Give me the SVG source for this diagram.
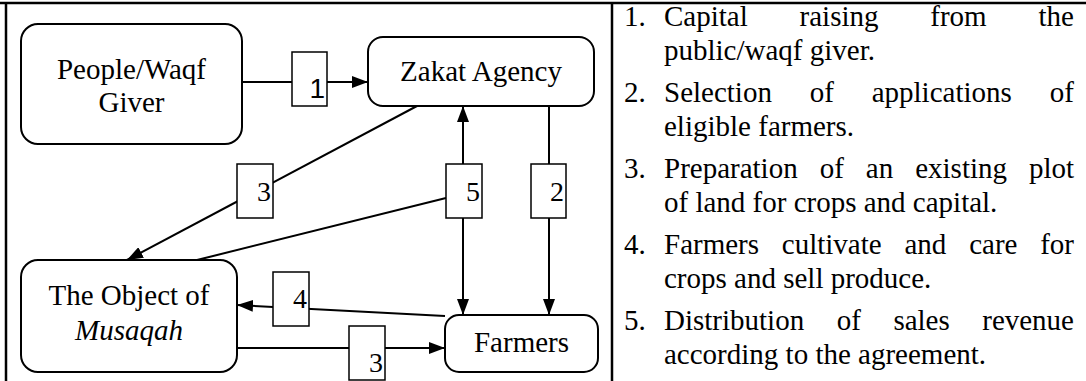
<svg xmlns="http://www.w3.org/2000/svg" width="1086" height="381" viewBox="0 0 1086 381">
  <defs>
    <marker id="arrow" viewBox="0 0 16 12" refX="16" refY="6" markerWidth="16" markerHeight="12" markerUnits="userSpaceOnUse" orient="auto-start-reverse">
      <path d="M0,0 L16,6 L0,12 Z" fill="#000"/>
    </marker>
    <style>
      .frame { stroke: #000; stroke-width: 2.5; fill: none; }
      .node { fill: #fff; stroke: #000; stroke-width: 2; }
      .conn { stroke: #000; stroke-width: 2; fill: none; }
      .tag { fill: #fff; stroke: #000; stroke-width: 1.5; }
      .serif { font-family: "Liberation Serif", "Times New Roman", serif; fill: #000; }
      .sans { font-family: "Liberation Sans", Arial, sans-serif; fill: #000; }
      .ntext { font-size: 29px; text-anchor: middle; }
      .num { font-size: 28px; text-anchor: end; }
      .list { font-size: 29px; }
    </style>
  </defs>

  <rect width="1086" height="381" fill="#fff"/>

  <!-- table frame -->
  <g id="frame">
    <line class="frame" x1="0" y1="3" x2="1086" y2="3"/>
    <line class="frame" x1="6" y1="2" x2="6" y2="381"/>
    <line class="frame" x1="612" y1="2" x2="612" y2="381"/>
  </g>

  <!-- connectors with their step tags -->
  <g id="connectors">
    <line class="conn" x1="242" y1="82" x2="368" y2="82" marker-end="url(#arrow)"/>
    <line class="conn" x1="549" y1="106" x2="549" y2="315" marker-end="url(#arrow)"/>
    <line class="conn" x1="417" y1="106" x2="127" y2="260" marker-end="url(#arrow)"/>
    <line class="conn" x1="463" y1="106" x2="463" y2="315" marker-start="url(#arrow)" marker-end="url(#arrow)"/>
    <line class="conn" x1="446" y1="198" x2="197" y2="260"/>
    <line class="conn" x1="445" y1="316" x2="237" y2="305" marker-end="url(#arrow)"/>
    <line class="conn" x1="237" y1="348" x2="445" y2="348" marker-end="url(#arrow)"/>

    <g id="tag1">
      <rect class="tag" x="292" y="52" width="35" height="54"/>
      <text class="sans num" x="325" y="98">1</text>
    </g>
    <g id="tag2">
      <rect class="tag" x="531" y="164" width="35" height="54"/>
      <text class="serif num" x="564" y="201">2</text>
    </g>
    <g id="tag3a">
      <rect class="tag" x="237" y="164" width="36" height="54"/>
      <text class="serif num" x="271" y="201">3</text>
    </g>
    <g id="tag5">
      <rect class="tag" x="446" y="164" width="36" height="54"/>
      <text class="serif num" x="480" y="201">5</text>
    </g>
    <g id="tag4">
      <rect class="tag" x="273" y="272" width="36" height="54"/>
      <text class="serif num" x="307" y="308">4</text>
    </g>
    <g id="tag3b">
      <rect class="tag" x="349" y="326" width="36" height="54"/>
      <text class="serif num" x="383" y="372">3</text>
    </g>
  </g>

  <!-- nodes -->
  <g id="people-waqf-giver">
    <rect class="node" x="21" y="24" width="221" height="120" rx="17"/>
    <text class="serif ntext" x="131.5" y="79">People/Waqf</text>
    <text class="serif ntext" x="131.5" y="112">Giver</text>
  </g>
  <g id="zakat-agency">
    <rect class="node" x="368" y="37" width="226" height="69" rx="15"/>
    <text class="serif ntext" x="481" y="81">Zakat Agency</text>
  </g>
  <g id="object-musaqah">
    <rect class="node" x="21" y="260" width="216" height="112" rx="17"/>
    <text class="serif ntext" x="129" y="305">The Object of</text>
    <text class="serif ntext" x="129" y="340" font-style="italic">Musaqah</text>
  </g>
  <g id="farmers">
    <rect class="node" x="445" y="315" width="153" height="57" rx="14"/>
    <text class="serif ntext" x="521.5" y="352">Farmers</text>
  </g>

  <!-- numbered explanation of the steps (justified lines set word by word) -->
  <g id="steps" class="serif list">
    <text x="624" y="26">1.</text>
    <text y="26"><tspan x="664">Capital</tspan><tspan x="799.6">raising</tspan><tspan x="930.3">from</tspan></text>
    <text x="1074" y="26" text-anchor="end">the</text>
    <text x="664" y="59.5">public/waqf giver.</text>

    <text x="624" y="102">2.</text>
    <text y="102"><tspan x="664">Selection</tspan><tspan x="809.7">of</tspan><tspan x="871.7">applications</tspan></text>
    <text x="1074" y="102" text-anchor="end">of</text>
    <text x="664" y="135.5">eligible farmers.</text>

    <text x="624" y="178">3.</text>
    <text y="178"><tspan x="664">Preparation</tspan><tspan x="819.7">of</tspan><tspan x="865.8">an</tspan><tspan x="915.2">existing</tspan></text>
    <text x="1074" y="178" text-anchor="end">plot</text>
    <text x="664" y="211.5">of land for crops and capital.</text>

    <text x="624" y="254">4.</text>
    <text y="254"><tspan x="664">Farmers</tspan><tspan x="781.8">cultivate</tspan><tspan x="904.5">and</tspan><tspan x="969.2">care</tspan></text>
    <text x="1074" y="254" text-anchor="end">for</text>
    <text x="664" y="287.5">crops and sell produce.</text>

    <text x="624" y="330">5.</text>
    <text y="330"><tspan x="664">Distribution</tspan><tspan x="836.7">of</tspan><tspan x="893.4">sales</tspan></text>
    <text x="1074" y="330" text-anchor="end">revenue</text>
    <text x="664" y="363.5">according to the agreement.</text>
  </g>
</svg>
